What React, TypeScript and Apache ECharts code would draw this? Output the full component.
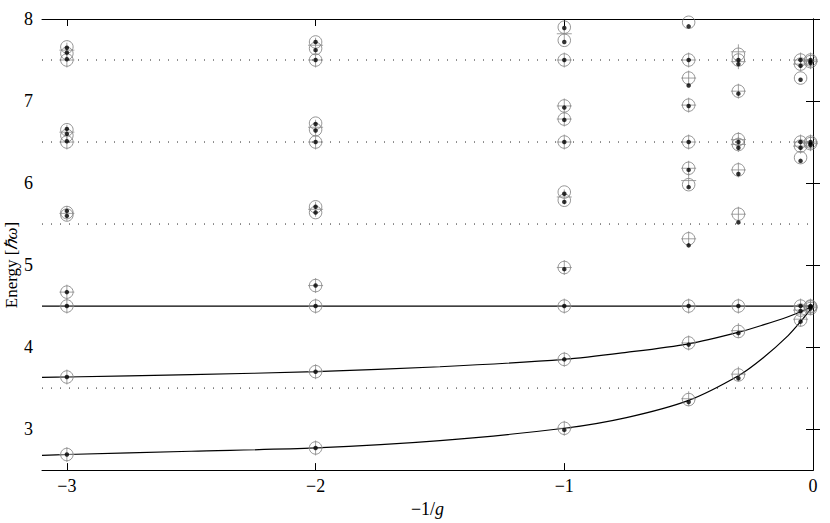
import React, { useEffect, useRef } from "react";
import * as echarts from "echarts";

// x positions (-1/g) of the computed spectra
const X_COLS = [-3, -2, -1, -0.5, -0.3, -0.05, -0.01];

// open circles
const CIRCLE_Y: number[][] = [
  [7.5, 7.58, 7.66, 6.5, 6.58, 6.65, 5.61, 5.64, 4.67, 4.5, 3.635, 2.69],
  [7.5, 7.64, 7.72, 6.5, 6.65, 6.73, 5.64, 5.71, 4.75, 4.5, 3.7, 2.77],
  [7.5, 7.74, 7.9, 6.5, 6.78, 6.94, 5.79, 5.89, 4.97, 4.5, 3.85, 3.01],
  [7.96, 7.5, 7.28, 6.95, 6.5, 6.18, 5.98, 5.32, 4.5, 4.05, 3.36],
  [7.57, 7.5, 7.12, 6.53, 6.47, 6.16, 5.62, 4.5, 4.19, 3.66],
  [7.5, 7.45, 7.28, 6.5, 6.45, 6.31, 4.5, 4.45, 4.33],
  [7.5, 7.48, 6.5, 6.48, 4.5, 4.49, 4.47],
];

// plus markers
const PLUS_Y: number[][] = [
  [7.5, 7.62, 6.5, 6.62, 5.63, 4.67, 4.5, 3.635, 2.69],
  [7.5, 7.68, 6.5, 6.68, 5.68, 4.75, 4.5, 3.7, 2.77],
  [7.5, 7.82, 6.5, 6.78, 6.94, 5.83, 4.97, 4.5, 3.85, 3.01],
  [7.5, 7.28, 6.95, 6.5, 6.18, 6.03, 5.32, 4.5, 4.05, 3.37],
  [7.6, 7.48, 7.12, 6.53, 6.47, 6.16, 5.62, 4.5, 4.2, 3.67],
  [7.5, 7.45, 6.5, 6.45, 4.5, 4.45, 4.34],
  [7.5, 7.48, 6.5, 6.48, 4.5, 4.48],
];

// filled dots
const DOT_Y: number[][] = [
  [7.51, 7.59, 7.65, 6.51, 6.6, 6.66, 5.6, 5.66, 4.67, 4.5, 3.635, 2.69],
  [7.5, 7.62, 7.72, 6.5, 6.64, 6.72, 5.64, 5.71, 4.75, 4.5, 3.7, 2.77],
  [7.5, 7.72, 7.89, 6.5, 6.77, 6.92, 5.77, 5.87, 4.95, 4.5, 3.85, 2.99],
  [7.91, 7.5, 7.19, 6.94, 6.5, 6.16, 5.95, 5.24, 4.5, 4.03, 3.33],
  [7.5, 7.45, 7.09, 6.5, 6.43, 6.11, 5.52, 4.5, 4.17, 3.62],
  [7.5, 7.43, 7.26, 6.5, 6.43, 6.27, 4.5, 4.44, 4.31],
  [7.5, 7.48, 7.46, 6.5, 6.48, 6.46, 4.5, 4.49, 4.47],
];

// analytic curves
const CURVE_X = [-3.1, -3, -2.5, -2, -1.5, -1, -0.75, -0.5, -0.3, -0.2, -0.1, -0.05, 0];
const UPPER_CURVE_Y = [3.63, 3.635, 3.665, 3.7, 3.76, 3.85, 3.935, 4.04, 4.18, 4.27, 4.37, 4.43, 4.5];
const LOWER_CURVE_Y = [2.68, 2.69, 2.73, 2.77, 2.86, 3.01, 3.14, 3.35, 3.65, 3.87, 4.14, 4.31, 4.5];
const FLAT_LEVEL = 4.5;
const DOTTED_LEVELS = [3.5, 5.5, 6.5, 7.5];

const X_MIN = -3.1;
const X_MAX = 0;
const Y_MIN = 2.5;
const Y_MAX = 8;
const X_TICKS = [-3, -2, -1, 0];
const Y_TICKS = [3, 4, 5, 6, 7, 8];

const FONT = "Liberation Serif";

function toPairs(cols: number[][]): number[][] {
  const out: number[][] = [];
  cols.forEach((ys, i) => ys.forEach((y) => out.push([X_COLS[i], y])));
  return out;
}

export default function App() {
  const ref = useRef<HTMLDivElement>(null);
  useEffect(() => {
    if (!ref.current) return;
    const chart = echarts.init(ref.current, undefined, { renderer: "svg" });
    const minus = (v: number) => String(v).replace("-", "\u2212");
    const axisCommon = {
      axisLine: { show: true, lineStyle: { color: "#000", width: 1 } },
      splitLine: { show: false },
    };
    const series: any[] = [];
    DOTTED_LEVELS.forEach((lv) => {
      series.push({
        type: "line",
        data: [
          [X_MIN, lv],
          [X_MAX, lv],
        ],
        symbol: "none",
        silent: true,
        lineStyle: { color: "#222", width: 1, type: [1, 8] },
        z: 1,
      });
    });
    series.push({
      type: "line",
      data: [
        [X_MIN, FLAT_LEVEL],
        [X_MAX, FLAT_LEVEL],
      ],
      symbol: "none",
      silent: true,
      lineStyle: { color: "#000", width: 1.2 },
      z: 2,
    });
    [UPPER_CURVE_Y, LOWER_CURVE_Y].forEach((ys) => {
      series.push({
        type: "line",
        data: CURVE_X.map((x, i) => [x, ys[i]]),
        symbol: "none",
        smooth: 0.3,
        silent: true,
        lineStyle: { color: "#000", width: 1.2 },
        z: 2,
      });
    });
    series.push({
      type: "scatter",
      data: toPairs(CIRCLE_Y),
      symbol: "circle",
      symbolSize: 12.5,
      itemStyle: { color: "transparent", borderColor: "#7a7a7a", borderWidth: 1 },
      z: 3,
    });
    series.push({
      type: "scatter",
      data: toPairs(PLUS_Y),
      symbol: "path://M7,0L7,14M0,7L14,7",
      symbolSize: 15,
      itemStyle: { color: "transparent", borderColor: "#8a8a8a", borderWidth: 1 },
      z: 4,
    });
    series.push({
      type: "scatter",
      data: toPairs(DOT_Y),
      symbol: "circle",
      symbolSize: 4.5,
      itemStyle: { color: "#000" },
      z: 5,
    });

    chart.setOption({
      animation: false,
      backgroundColor: "#fff",
      grid: { left: 42, right: 17, top: 19, bottom: 51, containLabel: false },
      xAxis: [
        {
          type: "value",
          min: X_MIN,
          max: X_MAX,
          position: "bottom",
          ...axisCommon,
          axisTick: { show: true, inside: true, length: 7, customValues: X_TICKS, lineStyle: { color: "#000" } },
          axisLabel: {
            show: true,
            customValues: X_TICKS,
            formatter: (v: number) => minus(v),
            color: "#000",
            fontFamily: FONT,
            fontSize: 18,
            margin: 7,
          },
          name: "\u22121/{i|g}",
          nameLocation: "middle",
          nameGap: 26,
          nameTextStyle: {
            color: "#000",
            fontFamily: FONT,
            fontSize: 18,
            rich: { i: { fontStyle: "italic", fontFamily: FONT, fontSize: 18, color: "#000" } },
          },
        },
        {
          type: "value",
          min: X_MIN,
          max: X_MAX,
          position: "top",
          ...axisCommon,
          axisTick: { show: true, inside: true, length: 7, customValues: X_TICKS, lineStyle: { color: "#000" } },
          axisLabel: { show: false },
        },
      ],
      yAxis: [
        {
          type: "value",
          min: Y_MIN,
          max: Y_MAX,
          position: "left",
          ...axisCommon,
          axisTick: { show: true, inside: true, length: 7, customValues: Y_TICKS, lineStyle: { color: "#000" } },
          axisLabel: {
            show: true,
            customValues: Y_TICKS,
            color: "#000",
            fontFamily: FONT,
            fontSize: 18,
            margin: 9,
          },
        },
        {
          type: "value",
          min: Y_MIN,
          max: Y_MAX,
          position: "right",
          ...axisCommon,
          axisTick: { show: true, inside: true, length: 7, customValues: Y_TICKS, lineStyle: { color: "#000" } },
          axisLabel: { show: false },
        },
      ],
      graphic: [
        {
          type: "text",
          x: 11,
          y: 265,
          rotation: Math.PI / 2,
          style: {
            text: "Energy [{i|\u210F\u03C9}]",
            fill: "#000",
            fontFamily: FONT,
            fontSize: 17,
            textAlign: "center",
            textVerticalAlign: "middle",
            rich: { i: { fontStyle: "italic", fontFamily: FONT, fontSize: 17, fill: "#000" } },
          },
        },
      ],
      series,
    });
    return () => chart.dispose();
  }, []);
  return (
    <div
      ref={ref}
      style={{ position: "absolute", left: 0, top: 0, width: 830, height: 523, background: "#fff" }}
    />
  );
}
